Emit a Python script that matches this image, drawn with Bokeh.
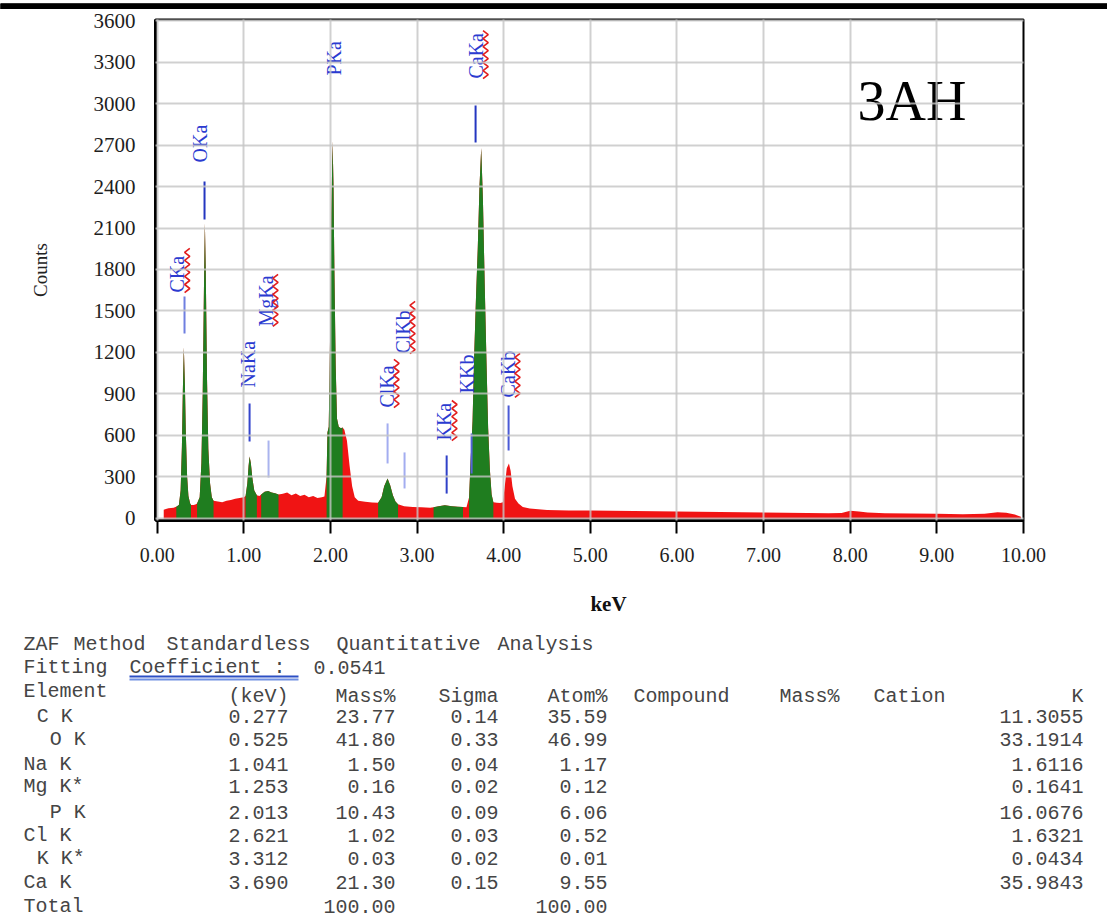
import numpy as np
from bokeh.plotting import figure
from bokeh.layouts import column
from bokeh.models import Range1d, FixedTicker, PrintfTickFormatter
from bokeh.core.properties import value
from bokeh.embed import file_html
from bokeh.resources import INLINE

# ---------------------------------------------------------------- spectrum
energy_kev = [
    0.075, 0.10, 0.13, 0.16, 0.19, 0.21,
    0.22, 0.25, 0.27, 0.285, 0.295, 0.307, 0.32, 0.33, 0.345, 0.36, 0.38, 0.39,
    0.42, 0.44,
    0.46, 0.49, 0.51, 0.525, 0.54, 0.55, 0.56, 0.575, 0.59, 0.61, 0.63, 0.65,
    0.70, 0.75, 0.80, 0.85, 0.90, 0.95, 1.00,
    1.02, 1.04, 1.055, 1.066, 1.08, 1.10, 1.12, 1.15,
    1.18,
    1.20, 1.24, 1.28, 1.32, 1.36, 1.40,
    1.45, 1.50, 1.55, 1.60, 1.65, 1.70, 1.75, 1.80, 1.85, 1.90, 1.93,
    1.955, 1.965, 1.98, 1.995, 2.01, 2.024, 2.035, 2.045, 2.06, 2.075, 2.095, 2.12, 2.14,
    2.16, 2.19, 2.22, 2.25, 2.28, 2.32, 2.40, 2.48,
    2.55, 2.59, 2.62, 2.659, 2.69, 2.72, 2.75, 2.78,
    2.85, 2.95, 3.05, 3.15,
    3.19, 3.25, 3.32, 3.40, 3.47, 3.53,
    3.57,
    3.60, 3.62, 3.64, 3.66, 3.68, 3.70, 3.72, 3.74, 3.76, 3.78, 3.80, 3.82, 3.84, 3.86, 3.88,
    3.92, 3.96, 3.99, 4.01, 4.035, 4.06, 4.08, 4.10, 4.13, 4.17, 4.22, 4.30, 4.50, 4.75,
    5.00, 5.25, 5.50, 5.75, 6.00, 6.25, 6.50, 6.75, 7.00, 7.25, 7.50, 7.75, 7.90,
    8.00, 8.10, 8.20, 8.40, 8.70, 9.00, 9.30, 9.55, 9.70, 9.80, 9.90, 9.97,
]
counts = [
    60, 65, 70, 72, 75, 80,
    82, 95, 200, 520, 900, 1236, 950, 620, 300, 160, 105, 95,
    95, 98,
    105, 150, 400, 900, 1700, 2135, 1800, 1000, 500, 250, 150, 125,
    120, 115, 125, 130, 140, 145, 150,
    160, 250, 380, 446, 400, 280, 200, 165,
    160,
    170, 190, 195, 185, 180, 170,
    175, 185, 165, 178, 160, 168, 150, 160, 145, 150, 155,
    300, 620, 660, 1300, 2200, 2730, 2400, 1800, 1100, 720, 660, 650, 655,
    640, 560, 380, 230, 150, 125, 118, 112,
    110, 150, 230, 286, 235, 165, 120, 100,
    85, 80, 78, 75,
    78, 85, 92, 85, 82, 80,
    78,
    150, 450, 700, 1200, 1600, 1950, 2400, 2680, 2300, 1700, 1150, 650, 350, 170, 115,
    110, 108, 115, 220, 360, 395, 340, 230, 140, 105, 80, 68, 58, 55,
    54, 52, 50, 49, 47, 46, 44, 42, 40, 38, 37, 35, 36,
    52, 48, 40, 35, 32, 30, 28, 30, 42, 38, 25, 10,
]

# fitted peak windows (keV), shaded green
roi_windows = [(0.22, 0.39), (0.46, 0.65), (1.02, 1.15), (1.20, 1.40),
               (1.955, 2.14), (2.55, 2.78), (3.19, 3.53), (3.60, 3.88)]

# KLM line markers
marker_kev = [0.315, 0.546, 1.066, 1.285, 2.659, 2.855, 3.341, 3.629, 3.675, 4.056]
marker_lo = [1336, 2162, 554, 293, 395, 214, 177, 322, 2719, 489]
marker_hi = [1604, 2437, 829, 561, 685, 475, 453, 612, 2987, 815]

# line identifiers
line_names = ["CKa", "OKa", "NaKa", "MgKa", "PKa", "ClKa", "ClKb", "KKa", "KKb", "CaKa", "CaKb"]

kev_ticks = [0, 1, 2, 3, 4, 5, 6, 7, 8, 9, 10]
count_ticks = [0, 300, 600, 900, 1200, 1500, 1800, 2100, 2400, 2700, 3000, 3300, 3600]

# ---------------------------------------------------------------- quantitative table
elements = ["C K", "O K", "Na K", "Mg K*", "P K", "Cl K", "K K*", "Ca K"]
line_kev = [0.277, 0.525, 1.041, 1.253, 2.013, 2.621, 3.312, 3.690]
mass_pct = [23.77, 41.80, 1.50, 0.16, 10.43, 1.02, 0.03, 21.30]
sigma = [0.14, 0.33, 0.04, 0.02, 0.09, 0.03, 0.02, 0.15]
atom_pct = [35.59, 46.99, 1.17, 0.12, 6.06, 0.52, 0.01, 9.55]
k_value = [11.3055, 33.1914, 1.6116, 0.1641, 16.0676, 1.6321, 0.0434, 35.9843]
mass_total = 100.00
atom_total = 100.00
fit_coefficient = 0.0541

# ---------------------------------------------------------------- styling
W = 1107
SERIF = "Liberation Serif"
MONO = "Liberation Mono"
RED = "#f01414"
GREEN = "#1f7d1f"
LABEL_BLUE = "#2b3bd0"
SQUIGGLE_RED = "#e21e1e"
TABLE_GRAY = "#454545"
Y_FLOOR = -18

marker_colors = ["#6f7fe0", "#2436c0", "#3445cc", "#aab4ee", "#a3adf0",
                 "#a3adf0", "#3041c8", "#5464d8", "#2436c0", "#4a5ad6"]
label_x = [0.231, 0.488, 1.048, 1.250, 2.035, 2.647, 2.832, 3.316, 3.571, 3.676, 4.044]
label_y = [1633, 2575, 945, 1387, 3204, 800, 1191, 561, 902, 3182, 873]
label_top = [1973, 2749, 1264, 1778, 3349, 1162, 1575, 865, 1213, 3552, 1213]
spell_marked = [True, False, False, True, False, True, True, True, False, True, True]

# ---------------------------------------------------------------- top strip
strip = figure(width=W, height=9, x_range=Range1d(0, 1), y_range=Range1d(0, 1),
               toolbar_location=None, output_backend="svg", min_border=0,
               x_axis_type=None, y_axis_type=None, outline_line_color=None,
               background_fill_color="black", border_fill_color="black")
strip.frame_align = False
strip.quad(left=0, right=1, bottom=0, top=1, color="black")

# ---------------------------------------------------------------- spectrum plot
p = figure(width=W, height=571,
           x_range=Range1d(-0.02, 10.0), y_range=Range1d(Y_FLOOR, 3610),
           toolbar_location=None, output_backend="svg",
           min_border_left=155, min_border_right=84, min_border_top=10, min_border_bottom=60,
           background_fill_color="white", border_fill_color="white",
           outline_line_color="black", outline_line_width=2)

xa = p.xaxis[0]
xa.ticker = FixedTicker(ticks=kev_ticks)
xa.formatter = PrintfTickFormatter(format="%.2f")
xa.major_tick_out = 13
xa.major_tick_in = 0
xa.minor_tick_out = 0
xa.minor_tick_in = 0
xa.major_tick_line_width = 2
xa.major_tick_line_color = "black"
xa.axis_line_width = 3
xa.axis_line_color = "black"
xa.major_label_standoff = 14
xa.major_label_text_font = SERIF
xa.major_label_text_font_size = "20px"
xa.major_label_text_color = "#1e1e1e"

ya = p.yaxis[0]
ya.ticker = FixedTicker(ticks=count_ticks)
ya.formatter = PrintfTickFormatter(format="%d")
ya.major_tick_out = 0
ya.major_tick_in = 0
ya.minor_tick_out = 0
ya.minor_tick_in = 0
ya.axis_line_width = 3
ya.axis_line_color = "black"
ya.major_label_standoff = 20
ya.major_label_text_font = SERIF
ya.major_label_text_font_size = "21px"
ya.major_label_text_color = "#1e1e1e"
ya.axis_label = "Counts"
ya.axis_label_standoff = 40
ya.axis_label_text_font = SERIF
ya.axis_label_text_font_size = "19px"
ya.axis_label_text_font_style = "normal"
ya.axis_label_text_color = "#222222"

p.grid.grid_line_color = "#c4c4c4"
p.grid.grid_line_width = 2
p.grid.grid_line_alpha = 0.8
p.grid.level = "overlay"

e = np.array(energy_kev, dtype=float)
c = np.array(counts, dtype=float)
p.varea(x=e, y1=Y_FLOOR, y2=c, fill_color=RED)
for lo, hi in roi_windows:
    m = (e >= lo - 1e-9) & (e <= hi + 1e-9)
    p.varea(x=e[m], y1=Y_FLOOR, y2=c[m], fill_color=GREEN)

p.segment(x0=marker_kev, y0=marker_lo, x1=marker_kev, y1=marker_hi,
          line_color=marker_colors, line_width=2)

p.text(x=label_x, y=label_y, text=line_names, angle=np.pi / 2,
       text_align="left", text_baseline="middle",
       text_font=value(SERIF), text_font_size="20px", text_color=LABEL_BLUE)

# wavy underline beside flagged identifiers
sq_xs, sq_ys = [], []
for lx, lb, lt, flag in zip(label_x, label_y, label_top, spell_marked):
    if not flag:
        continue
    ys = np.arange(lb, lt, 29.0)
    side = np.where(np.arange(len(ys)) % 2 == 0, -1.0, 1.0)
    sq_xs.append(list(lx + 0.115 + 0.03 * side))
    sq_ys.append(list(ys))
p.multi_line(xs=sq_xs, ys=sq_ys, line_color=SQUIGGLE_RED, line_width=1.6)

p.text(x=[8.084], y=[3020], text=["3AH"], text_font=value(SERIF),
       text_font_size="56px", text_color="black",
       text_align="left", text_baseline="middle")

# ---------------------------------------------------------------- axis title + table panel
# pixel-space panel: x and y equal page pixels
tb = figure(width=W, height=343, x_range=Range1d(0, W), y_range=Range1d(923, 580),
            toolbar_location=None, output_backend="svg", min_border=0,
            x_axis_type=None, y_axis_type=None, outline_line_color=None,
            background_fill_color="white", border_fill_color="white")
tb.frame_align = False

tb.text(x=[608], y=[603], text=["keV"], text_align="center", text_baseline="middle",
        text_font=value(SERIF), text_font_size="21px", text_font_style="bold",
        text_color="#111111")

left_x, left_y, left_t = [], [], []
right_x, right_y, right_t = [], [], []


def put_left(x, y, t):
    left_x.append(x)
    left_y.append(y)
    left_t.append(t)


def put_right(x, y, t):
    right_x.append(x)
    right_y.append(y)
    right_t.append(t)


for word, x in zip(["ZAF", "Method", "Standardless", "Quantitative", "Analysis"],
                   [23, 73, 166, 336, 497]):
    put_left(x, 644, word)
put_left(23, 667, "Fitting")
put_left(129, 667, "Coefficient :")
put_left(313, 667, f"{fit_coefficient:.4f}")
tb.segment(x0=[129, 129], y0=[676, 679], x1=[298, 298], y1=[676, 679],
           line_color=["#2c4fc4", "#7090e2"], line_width=2)

COL_KEV, COL_MASS, COL_SIGMA, COL_ATOM, COL_K = 288, 395, 498, 607, 1083
put_left(23, 690.5, "Element")
for t, x in zip(["(keV)", "Mass%", "Sigma", "Atom%"], [COL_KEV, COL_MASS, COL_SIGMA, COL_ATOM]):
    put_right(x, 696, t)
for t, x in zip(["Compound", "Mass%", "Cation"], [633, 779, 873]):
    put_left(x, 696, t)
put_right(COL_K, 696, "K")

row_y = [715.7, 738.5, 763.5, 786, 812, 835, 857.5, 882]
indent = [1, 2, 0, 0, 2, 0, 1, 0]
for i, name in enumerate(elements):
    y = row_y[i]
    put_left(23 + indent[i] * 13.15, y, name)
    put_right(COL_KEV, y, f"{line_kev[i]:.3f}")
    put_right(COL_MASS, y, f"{mass_pct[i]:.2f}")
    put_right(COL_SIGMA, y, f"{sigma[i]:.2f}")
    put_right(COL_ATOM, y, f"{atom_pct[i]:.2f}")
    put_right(COL_K, y, f"{k_value[i]:.4f}")
put_left(23, 905.5, "Total")
put_right(COL_MASS, 905.5, f"{mass_total:.2f}")
put_right(COL_ATOM, 905.5, f"{atom_total:.2f}")

tb.text(x=left_x, y=left_y, text=left_t, text_align="left", text_baseline="middle",
        text_font=value(MONO), text_font_size="20px", text_color=TABLE_GRAY)
tb.text(x=right_x, y=right_y, text=right_t, text_align="right", text_baseline="middle",
        text_font=value(MONO), text_font_size="20px", text_color=TABLE_GRAY)

layout = column(strip, p, tb)
open("out.html", "w").write(file_html(layout, INLINE))
